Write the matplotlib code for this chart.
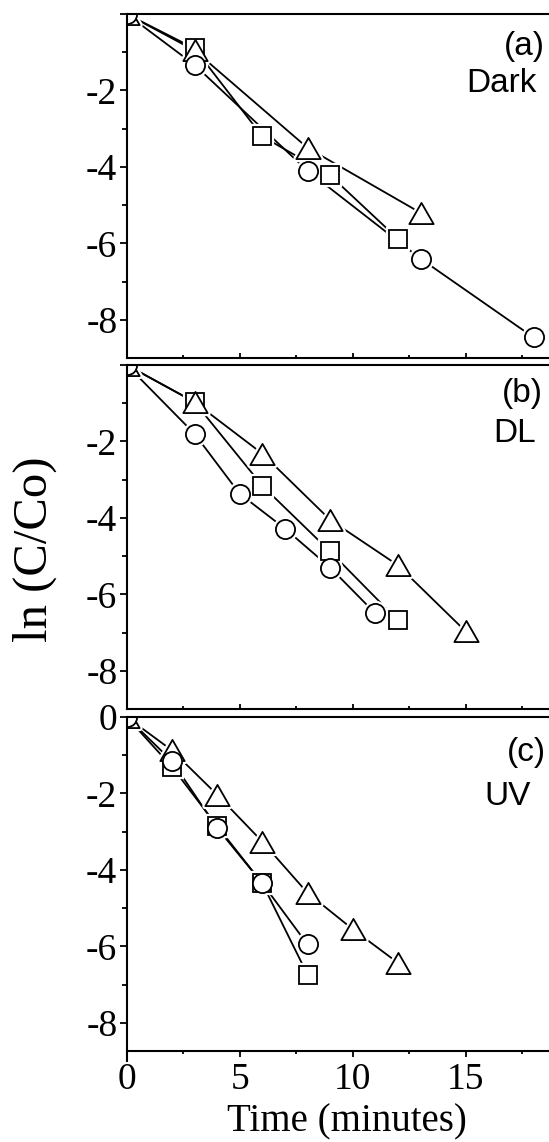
import numpy as np
import matplotlib
matplotlib.use("Agg")
import matplotlib.pyplot as plt
from matplotlib.path import Path

plt.rcParams['font.family'] = ['Liberation Serif', 'DejaVu Serif']
plt.rcParams['axes.unicode_minus'] = False

# (a) Dark
dark_circ_t = [0, 3, 8, 13, 18]
dark_circ_y = [0, -1.33, -4.1, -6.4, -8.46]
dark_sq_t = [0, 3, 6, 9, 12]
dark_sq_y = [0, -0.9, -3.2, -4.22, -5.88]
dark_tri_t = [0, 3, 8, 13]
dark_tri_y = [0, -0.95, -3.5, -5.2]

# (b) DL
dl_circ_t = [0, 3, 5, 7, 9, 11]
dl_circ_y = [0, -1.8, -3.37, -4.28, -5.3, -6.5]
dl_sq_t = [0, 3, 6, 9, 12]
dl_sq_y = [0, -0.97, -3.16, -4.88, -6.68]
dl_tri_t = [0, 3, 6, 9, 12, 15]
dl_tri_y = [0, -0.97, -2.32, -4.05, -5.24, -6.97]

# (c) UV
uv_circ_t = [0, 2, 4, 6, 8]
uv_circ_y = [0, -1.15, -2.9, -4.35, -5.95]
uv_sq_t = [0, 2, 4, 6, 8]
uv_sq_y = [0, -1.3, -2.85, -4.35, -6.74]
uv_tri_t = [0, 2, 4, 6, 8, 10, 12]
uv_tri_y = [0, -0.87, -2.03, -3.26, -4.6, -5.55, -6.43]

y_major = [0, -2, -4, -6, -8]
y_minor = [-1, -3, -5, -7]
x_major = [0, 5, 10, 15, 20]
x_minor = [2.5, 7.5, 12.5, 17.5]

# wide open triangle like the original
tri = Path([(0, 1), (-1.15, -1), (1.15, -1), (0, 1)],
           [Path.MOVETO, Path.LINETO, Path.LINETO, Path.CLOSEPOLY])

fig = plt.figure(figsize=(5.49, 11.42), dpi=100)
left, width, height = 0.2308, 0.8233, 0.3012
ax_a = fig.add_axes([left, 0.6865, width, height])
ax_b = fig.add_axes([left, 0.3792, width, height])
ax_c = fig.add_axes([left, 0.0709, width, height])

panels = [
    (ax_a, '(a)', 'Dark', (dark_sq_t, dark_sq_y), (dark_tri_t, dark_tri_y), (dark_circ_t, dark_circ_y)),
    (ax_b, '(b)', 'DL', (dl_sq_t, dl_sq_y), (dl_tri_t, dl_tri_y), (dl_circ_t, dl_circ_y)),
    (ax_c, '(c)', 'UV', (uv_sq_t, uv_sq_y), (uv_tri_t, uv_tri_y), (uv_circ_t, uv_circ_y)),
]
styles = [('s', 12.5), (tri, 17.5), ('o', 13.8)]
text_pos = {'(a)': [(18.5, -0.85), (18.15, -1.81)],
            '(b)': [(18.4, -0.74), (18.1, -1.78)],
            '(c)': [(18.55, -0.94), (17.9, -2.08)]}

for ax, tag, name, sq, tr, ci in panels:
    series = [sq, tr, ci]
    for (t, y) in series:
        ax.plot(t, y, color='black', lw=1.3, zorder=2)
    # white halo so the lines stop short of the symbols
    for (t, y), (mk, ms) in zip(series, styles):
        ax.plot(t, y, ls='none', marker=mk, ms=ms, mfc='white', mec='white', mew=4.5, zorder=3)
    for (t, y), (mk, ms) in zip(series, styles):
        ax.plot(t, y, ls='none', marker=mk, ms=ms, mfc='white', mec='black', mew=1.3, zorder=4)

    ax.set_xlim(0, 20)
    ax.set_ylim(-9, 0)
    for sp in ax.spines.values():
        sp.set_linewidth(1.5)
        sp.set_zorder(10)
    ax.spines['right'].set_visible(False)

    ax.set_xticks(x_major)
    ax.set_xticks(x_minor, minor=True)
    ax.set_yticks(y_minor, minor=True)
    ax.tick_params(axis='y', which='major', direction='out', length=4.8, width=1.3,
                   labelsize=27, pad=2)
    ax.tick_params(axis='y', which='minor', direction='out', length=3.6, width=1.3)

    (x1, y1), (x2, y2) = text_pos[tag]
    ax.text(x1, y1, tag, ha='right', va='center', fontsize=24, family='Liberation Sans')
    ax.text(x2, y2, name, ha='right', va='center', fontsize=24, family='Liberation Sans')

for ax in (ax_a, ax_b):
    ax.set_yticks(y_major, ['', '-2', '-4', '-6', '-8'])
    ax.tick_params(axis='x', which='major', direction='in', length=3.8, width=1.3, labelbottom=False)
    ax.tick_params(axis='x', which='minor', direction='in', length=2.0, width=1.3)

ax_c.set_yticks(y_major, ['0', '-2', '-4', '-6', '-8'])
ax_c.spines['bottom'].set_position(('data', -8.74))
ax_c.set_xticks(x_major, ['0', '5', '10', '15', ''])
ax_c.tick_params(axis='x', which='major', direction='out', length=4.0, width=1.3,
                 labelsize=27, pad=4)
ax_c.tick_params(axis='x', which='minor', direction='out', length=2.4, width=1.3)

fig.text(0.0638, 0.519, 'ln (C/Co)', rotation=90, ha='center', va='center', fontsize=35)
fig.text(0.632, 0.0178, 'Time (minutes)', ha='center', va='center', fontsize=28)

fig.savefig('out.png', dpi=100)
